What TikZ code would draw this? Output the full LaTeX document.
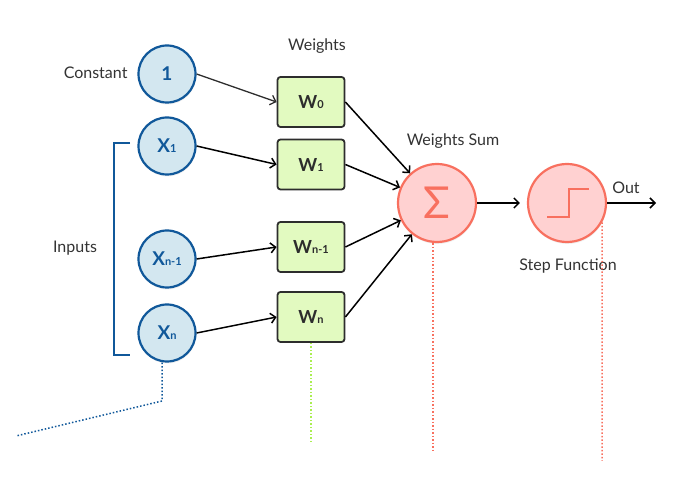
\documentclass[tikz,border=0pt]{standalone}
\usepackage{fontspec}
\setmainfont{Lato}
\usetikzlibrary{arrows.meta,shadows,calc}
\definecolor{inblue}{RGB}{16,88,154}
\definecolor{infill}{RGB}{211,231,240}
\definecolor{wgreen}{RGB}{226,250,192}
\definecolor{wline}{RGB}{45,45,45}
\definecolor{sumred}{RGB}{248,112,95}
\definecolor{sumfill}{RGB}{255,209,209}
\definecolor{txtgray}{RGB}{51,51,51}
\definecolor{dotgreen}{RGB}{170,238,80}
\newcommand{\idx}[1]{{\fontsize{11}{11}\selectfont #1}}

\begin{document}
\begin{tikzpicture}[x=1pt,y=1pt,
    inpnode/.style={circle,draw=inblue,fill=infill,line width=2.2pt,
      minimum size=57pt,inner sep=0pt,text=inblue,
      font=\fontsize{19}{19}\selectfont\bfseries,
      drop shadow={opacity=0.12,shadow xshift=0.5pt,shadow yshift=-2pt}},
    wbox/.style={draw=wline,fill=wgreen,line width=1.8pt,rounded corners=3pt,
      minimum width=67pt,minimum height=50pt,inner sep=0pt,text=wline,
      font=\fontsize{18}{18}\selectfont\bfseries},
    opnode/.style={circle,draw=sumred,fill=sumfill,line width=2.2pt,
      minimum size=78pt,inner sep=0pt,text=sumred,
      drop shadow={opacity=0.12,shadow xshift=0.5pt,shadow yshift=-2pt}},
    lbl/.style={text=txtgray,font=\fontsize{16}{16}\selectfont},
    arr/.style={-{Straight Barb[length=5pt,width=10pt]},line width=1.5pt,black}]
  \useasboundingbox (0,0) rectangle (681,477);
  %% Inputs
  \node[inpnode] (one) at (167,403) {1};
  \node[inpnode] (x1) at (167,331) {X\idx{1}};
  \node[inpnode] (xn1) at (167,218) {X\idx{n-1}};
  \node[inpnode] (xn) at (167,144) {X\idx{n}};
  \node[lbl,anchor=east] (constlbl) at (131,404) {Constant};
  \node[lbl] (inplbl) at (75,229) {Inputs};
  %% Bracket
  \coordinate (brtop) at (130,334);
  \coordinate (brbot) at (130,122);
  \draw[inblue,line width=1.8pt] (brtop) -- (114,334) -- (114,122) -- (brbot);
  %% Weights
  \node[lbl] (wlbl) at (317,431) {Weights};
  \node[wbox] (w0) at (311,375) {W\idx{0}};
  \node[wbox] (w1) at (311,312.5) {W\idx{1}};
  \node[wbox] (wn1) at (311,230) {W\idx{n-1}};
  \node[wbox] (wn) at (311,160) {W\idx{n}};
  %% Sum and step
  \node[opnode,font=\fontsize{44}{44}\selectfont] (sum) at (437,274) {Σ};
  \node[lbl] (sumlbl) at (453,336) {Weights Sum};
  \node[opnode] (step) at (567,274) {};
  \draw[sumred,line width=2.5pt]
    ($(step.center)+(-20,-14)$) -- ++(22,0) -- ++(0,28) -- ++(20,0);
  \node[lbl] (steplbl) at (568,211) {Step Function};
  \node[lbl] (outlbl) at (626,289) {Out};
  \coordinate (outend) at (656,274);
  %% Connectors
  \draw[arr,line width=1.3pt,wline] (one.east) -- (w0.west);
  \draw[arr] (x1.east) -- (w1.west);
  \draw[arr] (xn1.east) -- (wn1.west);
  \draw[arr] (xn.east) -- (wn.west);
  \draw[arr] (w0.east) -- (sum);
  \draw[arr] (w1.east) -- (sum);
  \draw[arr] (wn1.east) -- (sum);
  \draw[arr] (wn.east) -- (sum);
  \draw[arr,shorten >=7pt] (sum.east) -- (step.west);
  \draw[arr] (step.east) -- (outend);
  %% Dotted leaders
  \coordinate (xnbend) at (162,76);
  \coordinate (xnend) at (16,41);
  \coordinate (wnend) at (311,34);
  \coordinate (sumend) at (433,27);
  \coordinate (stepend) at (602,16);
  \draw[inblue,line width=1.5pt,dotted] (xn.south -| xnbend) -- (xnbend) -- (xnend);
  \draw[dotgreen,line width=1.5pt,dotted] (wn.south) -- (wnend);
  \draw[sumred,line width=1.5pt,dotted] (sum.south -| sumend) -- (sumend);
  \draw[sumred,line width=1.5pt,dotted] (step.-29) -- (stepend);
\end{tikzpicture}
\end{document}
